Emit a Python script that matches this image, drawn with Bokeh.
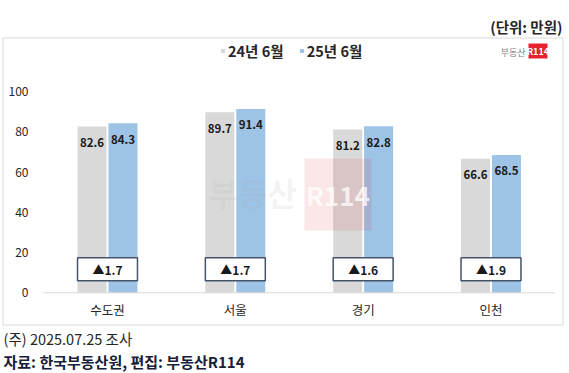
from bokeh.plotting import figure
from bokeh.models import ColumnDataSource, Legend, LegendItem
from bokeh.core.properties import value
from bokeh.embed import file_html
from bokeh.resources import INLINE

# ---------------- data ----------------
categories = ["수도권", "서울", "경기", "인천"]
series_names = ["24년 6월", "25년 6월"]
jun24 = [82.6, 89.7, 81.2, 66.6]
jun25 = [84.3, 91.4, 82.8, 68.5]
y_ticks = [0, 20, 40, 60, 80, 100]
unit_text = "(단위: 만원)"
note_text = "(주) 2025.07.25 조사"
source_text = "자료: 한국부동산원, 편집: 부동산R114"

# ---------------- style / layout ----------------
FONT = "Noto Sans CJK KR"
GRAY = "#d9d9d9"
BLUE = "#9dc3e6"
TXT = "#262626"
W, H = 569, 373
PAGE_L, PAGE_T = 0, 0

PX_PER_CAT = 127.83      # pixels per category step
X0_PAGE = 107            # page x of first category centre
PX_PER_UNIT = 2.012      # pixels per value unit
ZERO_PAGE = 292.3        # page y of value 0


def px(page_x):
    return (page_x - X0_PAGE) / PX_PER_CAT


def py(page_y):
    return (ZERO_PAGE - page_y) / PX_PER_UNIT


x_range = (px(PAGE_L), px(PAGE_L + W))
y_range = (py(PAGE_T + H), py(PAGE_T))

BAR_W = 0.227
OFF = 0.121
DELTA_Y = 11.7

n = len(categories)
xs = list(range(n))
src = ColumnDataSource(dict(
    x=xs,
    cat=categories,
    a=jun24,
    b=jun25,
    xa=[i - OFF for i in xs],
    xb=[i + OFF for i in xs],
    la=[f"{v:.1f}" for v in jun24],
    lb=[f"{v:.1f}" for v in jun25],
    dl=["▲" + f"{round(b - a, 1):.1f}" for a, b in zip(jun24, jun25)],
))

p = figure(width=W, height=H, x_range=x_range, y_range=y_range,
           output_backend="svg", toolbar_location=None,
           x_axis_type=None, y_axis_type=None,
           min_border=0)
p.outline_line_color = None
p.background_fill_color = "white"
p.border_fill_color = "white"

# chart box
p.quad(left=[px(2.5)], right=[px(562.5)], top=[py(37.5)], bottom=[py(324.5)],
       fill_color=None, line_color="#d9d9d9", line_width=1)

# bars
r1 = p.vbar(x="xa", top="a", bottom=0, width=BAR_W, source=src,
            fill_color=GRAY, line_color=None)
r2 = p.vbar(x="xb", top="b", bottom=0, width=BAR_W, source=src,
            fill_color=BLUE, line_color=None)

# baseline axis
p.segment(x0=-0.5, y0=0, x1=n - 0.5, y1=0, line_color="#d9d9d9", line_width=1)

# value labels
for xcol, ycol, lcol in (("xa", "a", "la"), ("xb", "b", "lb")):
    p.text(x=xcol, y=ycol, text=lcol, source=src, y_offset=16,
           text_align="center", text_baseline="middle",
           text_font=value(FONT), text_font_size="11.5px",
           text_font_style="bold", text_color="#1a1a1a")

# difference boxes
p.rect(x="x", y=DELTA_Y, width=2 * OFF + BAR_W, height=23, height_units="screen",
       source=src, fill_color="white", line_color="#44546a", line_width=1.5)
p.text(x="x", y=DELTA_Y, text="dl", source=src,
       text_align="center", text_baseline="middle",
       text_font=value(FONT), text_font_size="12px",
       text_font_style="bold", text_color="#1a1a1a")

# category labels
p.text(x="x", y=0, text="cat", source=src, y_offset=17,
       text_align="center", text_baseline="middle",
       text_font=value(FONT), text_font_size="12.5px", text_color=TXT)

# y tick labels
p.text(x=[px(28)] * len(y_ticks), y=y_ticks, text=[str(t) for t in y_ticks],
       text_align="right", text_baseline="middle",
       text_font=value(FONT), text_font_size="12px", text_color=TXT)

# watermark
p.text(x=[px(252)], y=[py(191)], text=["부동산"], text_align="center",
       text_baseline="middle", text_font=value(FONT), text_font_size="32px",
       text_font_style="bold", text_color="#a6a6a6", text_alpha=0.12)
p.rect(x=[px(337.5)], y=[py(194)], width=67, height=72, width_units="screen",
       height_units="screen", fill_color="#e8212f", fill_alpha=0.11, line_color=None)
p.text(x=[px(337.5)], y=[py(194)], text=["R114"], text_align="center",
       text_baseline="middle", text_font=value(FONT), text_font_size="26px",
       text_font_style="bold", text_color="white", text_alpha=0.75)

# logo
p.rect(x=[px(537.5)], y=[py(50.5)], width=19, height=15, width_units="screen",
       height_units="screen", fill_color="#e8212f", line_color=None)
p.text(x=[px(537.5)], y=[py(50.5)], text=["R114"], text_align="center",
       text_baseline="middle", text_font=value(FONT), text_font_size="9px",
       text_font_style="bold", text_color="white")
p.text(x=[px(525)], y=[py(51.5)], text=["부동산"], text_align="right",
       text_baseline="middle", text_font=value(FONT), text_font_size="9px",
       text_color="#7f7f7f")

# header unit text
p.text(x=[px(562)], y=[py(26)], text=[unit_text], text_align="right",
       text_baseline="middle", text_font=value(FONT), text_font_size="14.5px",
       text_font_style="bold", text_color=TXT)

# footer
p.text(x=[px(3)], y=[py(338)], text=[note_text], text_align="left",
       text_baseline="middle", text_font=value(FONT), text_font_size="14.5px",
       text_color=TXT)
p.text(x=[px(3)], y=[py(361)], text=[source_text], text_align="left",
       text_baseline="middle", text_font=value(FONT), text_font_size="15px",
       text_font_style="bold", text_color="#17203a")

# legend
legend = Legend(items=[LegendItem(label=series_names[0], renderers=[r1]),
                       LegendItem(label=series_names[1], renderers=[r2])],
                orientation="horizontal", location=(220, 312),
                padding=0, margin=0, spacing=15,
                glyph_width=5, glyph_height=5, label_standoff=3,
                label_height=14, label_text_font=FONT,
                label_text_font_size="14.5px", label_text_font_style="bold",
                label_text_color=TXT,
                background_fill_alpha=0, border_line_alpha=0)
p.add_layout(legend)

open("out.html", "w").write(file_html(p, INLINE))
